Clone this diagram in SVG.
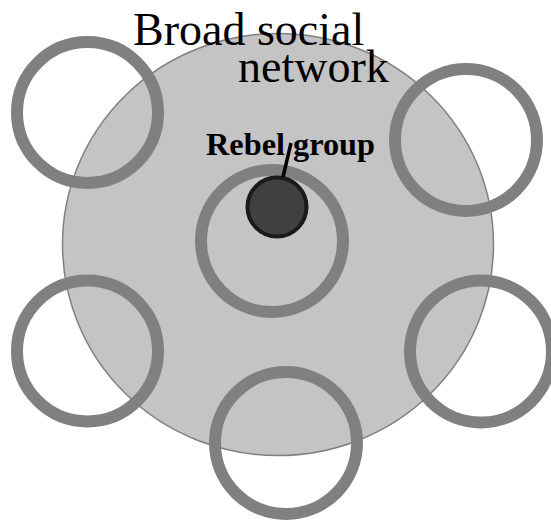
<svg xmlns="http://www.w3.org/2000/svg" width="551" height="521" viewBox="0 0 551 521">
<style>
.ring{fill:none;stroke:#808080;stroke-width:12}
.label{font-family:"Liberation Serif","Times New Roman",serif;fill:#000}
</style>
<rect width="551" height="521" fill="#fff"/>
<g id="broad-network">
<ellipse cx="278" cy="244.5" rx="215.5" ry="211" fill="#c4c4c4" stroke="#808080" stroke-width="1.5"/>
</g>
<g id="ring-top-left"><circle class="ring" cx="87.5" cy="112.5" r="70.5"/></g>
<g id="ring-top-right"><circle class="ring" cx="466" cy="140" r="71"/></g>
<g id="ring-bottom-left"><circle class="ring" cx="87.5" cy="351" r="70.5"/></g>
<g id="ring-bottom-right"><circle class="ring" cx="481" cy="351.5" r="71"/></g>
<g id="ring-bottom"><circle class="ring" cx="286" cy="443" r="71"/></g>
<g id="ring-center"><circle class="ring" cx="272" cy="241" r="71"/></g>
<g id="rebel-group">
<circle cx="277" cy="207" r="29.5" fill="#404040" stroke="#1a1a1a" stroke-width="4"/>
<text class="label" x="206" y="155" font-size="32" font-weight="bold" textLength="169" lengthAdjust="spacingAndGlyphs">Rebel group</text>
</g>
<g id="connectors">
<line x1="283" y1="177" x2="291" y2="143" stroke="#000" stroke-width="3.5"/>
</g>
<g id="title">
<text class="label" x="133" y="45" font-size="46">Broad social</text>
<text class="label" x="238" y="82" font-size="46">network</text>
</g>
</svg>
